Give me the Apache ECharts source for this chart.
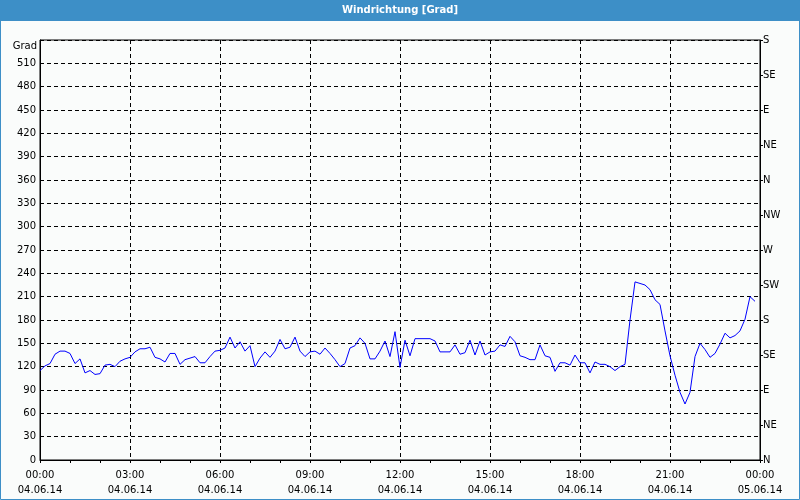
<!DOCTYPE html>
<html>
<head>
<meta charset="utf-8">
<script src="https://cdn.jsdelivr.net/npm/echarts@6/dist/echarts.min.js"></script>
<style>
html,body{margin:0;padding:0;background:#fafcfb;}
#chart{width:800px;height:500px;}
</style>
</head>
<body>
<div id="chart"></div>
<script>
// Wind direction in degrees, one sample every 10 minutes from 04.06.14 00:00
const sampleStepMinutes = 10;
const windDirection = [
  115,121,124,136,140,140,137,124,130,112,115,110,111,122,123,120,127,130,
  132,139,143,143,145,132,130,126,137,137,123,129,131,133,125,125,133,140,
  141,144,158,144,152,140,147,120,131,139,132,140,155,143,145,158,140,133,
  139,140,136,144,137,129,120,124,144,147,157,150,130,130,140,153,133,165,
  119,154,134,156,156,156,156,153,139,139,139,148,136,138,154,135,153,135,
  139,140,148,146,159,152,134,132,129,129,148,134,132,114,125,125,122,135,
  125,125,112,126,123,123,120,115,120,123,180,229,227,225,219,206,200,166,
  134,109,87,72,87,133,150,142,132,137,149,163,157,160,166,181,210,204
];
const xTickLabels = [
  '00:00\n04.06.14','03:00\n04.06.14','06:00\n04.06.14','09:00\n04.06.14',
  '12:00\n04.06.14','15:00\n04.06.14','18:00\n04.06.14','21:00\n04.06.14',
  '00:00\n05.06.14'
];
const compassLabels = ['N','NE','E','SE','S','SW','W','NW','N','NE','E','SE','S'];
const titleText = 'Windrichtung [Grad]';
const unitText = 'Grad';

const font = 'DejaVu Sans';
const chart = echarts.init(document.getElementById('chart'), null, {renderer:'canvas'});
const seriesData = windDirection.map((v, i) => [i * sampleStepMinutes, v]);

chart.setOption({
  backgroundColor: '#fafcfb',
  animation: false,
  textStyle: {fontFamily: font},
  graphic: [
    {type:'rect', z:10, shape:{x:0, y:0, width:800, height:21}, style:{fill:'#3d8fc7'}},
    {type:'text', z:11, x:400, y:10.5, style:{text:titleText, fill:'#ffffff', font:'bold 10px "DejaVu Sans"', align:'center', verticalAlign:'middle'}},
    {type:'rect', z:12, shape:{x:0.5, y:0.5, width:799, height:499}, style:{fill:null, stroke:'#3d8fc7', lineWidth:1}},
    {type:'text', z:11, x:37, y:46.5, style:{text:unitText, fill:'#000', font:'10px "DejaVu Sans"', align:'right', verticalAlign:'middle'}}
  ],
  grid: {left:40, right:40, top:40, bottom:40, show:true, borderColor:'#000', borderWidth:1, backgroundColor:'transparent'},
  xAxis: {
    type:'value', min:0, max:1440, interval:180,
    axisLine:{show:true, lineStyle:{color:'#000', width:1}},
    axisTick:{show:true, inside:false, length:3, lineStyle:{color:'#000'}},
    minorTick:{show:true, splitNumber:3, length:3, lineStyle:{color:'#000'}},
    axisLabel:{
      color:'#000', fontSize:10, fontFamily:font, lineHeight:15, margin:8,
      showMinLabel:true, showMaxLabel:true,
      formatter: v => xTickLabels[Math.round(v/180)]
    },
    splitLine:{show:true, lineStyle:{color:'#000', type:[4,3], width:1}}
  },
  yAxis: [
    {
      type:'value', position:'left', min:0, max:540, interval:30,
      axisLine:{show:true, lineStyle:{color:'#000'}},
      axisTick:{show:false},
      axisLabel:{color:'#000', fontSize:10, fontFamily:font, margin:4,
        formatter: v => v === 540 ? '' : String(v)},
      splitLine:{show:true, lineStyle:{color:'#000', type:[4,3], width:1}}
    },
    {
      type:'value', position:'right', min:0, max:540, interval:45,
      axisLine:{show:true, lineStyle:{color:'#000'}},
      axisTick:{show:true, length:3, lineStyle:{color:'#000'}},
      axisLabel:{color:'#000', fontSize:10, fontFamily:font, margin:3,
        formatter: v => compassLabels[Math.round(v/45)]},
      splitLine:{show:false}
    }
  ],
  series: [{
    type:'line', yAxisIndex:0, data: seriesData,
    showSymbol:false, symbol:'none',
    lineStyle:{color:'#0000ff', width:1},
    z:5
  }]
});
</script>
</body>
</html>
